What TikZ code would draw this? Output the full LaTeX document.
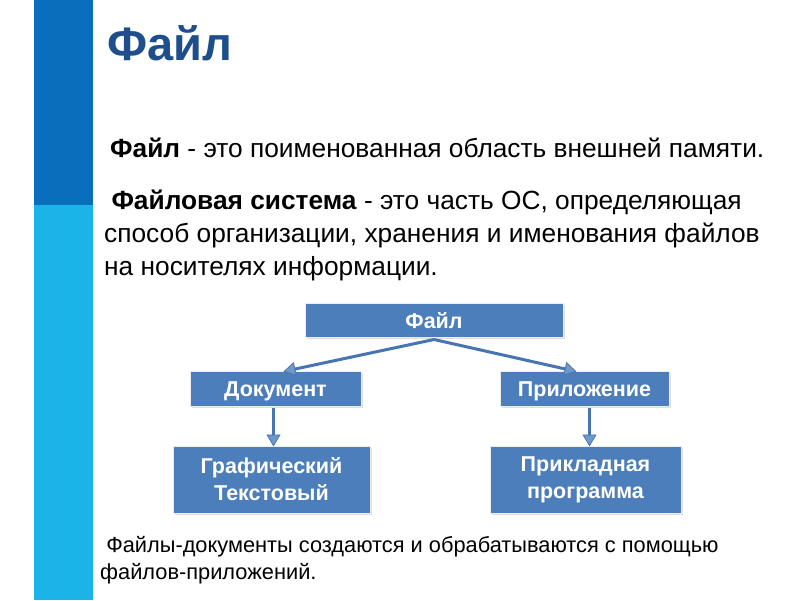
\documentclass[tikz,border=0pt]{standalone}
\usepackage{fontspec}
\setmainfont{Liberation Sans}
\usetikzlibrary{arrows.meta,shadows}
\definecolor{darkbar}{HTML}{0A6EBD}
\definecolor{lightbar}{HTML}{1BB4E8}
\definecolor{titleblue}{HTML}{1F4E8C}
\definecolor{boxblue}{HTML}{4C7EBB}
\definecolor{arrowblue}{HTML}{4775B2}
\newcommand{\onebox}[1]{\raisebox{-8.3pt}[0pt][0pt]{#1}}
\tikzset{
  box/.style={draw=white!85!gray, line width=1pt, fill=boxblue, text=white, font=\bfseries\fontsize{21.5}{27}\selectfont, align=center, inner sep=0pt, drop shadow={opacity=0.25, shadow xshift=1.5pt, shadow yshift=-1.5pt}},
  conn/.style={draw=arrowblue, line width=3pt, -{Triangle[width=14pt, length=12pt, line width=0.8pt, fill=boxblue!80!white]}},
  body/.style={font=\fontsize{26.3}{33}\selectfont, anchor=west, align=left, inner sep=0pt}
}
\begin{document}
\begin{tikzpicture}[x=1pt,y=-1pt]
\useasboundingbox (0,0) rectangle (800,600);
\fill[white] (0,0) rectangle (800,600);
\fill[darkbar] (34,0) rectangle (93,205);
\fill[lightbar] (34,205) rectangle (93,600);
\node[anchor=west, inner sep=0pt, text=titleblue, font=\bfseries\fontsize{47}{50}\selectfont] (title) at (107,43) {Файл};
\node[body] (def1) at (110,148) {\textbf{Файл} - это поименованная область внешней памяти.};
\node[body, anchor=north west] (def2) at (104,190) {\;\textbf{Файловая система} - это часть ОС, определяющая\\способ организации, хранения и именования файлов\\на носителях информации.};
\node[box, minimum width=258pt, minimum height=34pt] (f) at (434,320) {\onebox{Файл}};
\node[box, minimum width=171pt, minimum height=35pt] (d) at (275.5,388.5) {\onebox{Документ}};
\node[box, minimum width=169pt, minimum height=35pt] (p) at (584.5,388.5) {\onebox{Приложение}};
\node[box, minimum width=197pt, minimum height=67pt] (g) at (271.5,479.5) {Графический\\Текстовый};
\node[box, minimum width=191pt, minimum height=67pt] (a) at (585.5,479.5) {Прикладная\\программа};
\draw[conn] ([yshift=-2pt]f.south) -- ([xshift=8pt,yshift=-1pt]d.north);
\draw[conn] ([yshift=-2pt]f.south) -- ([xshift=-8pt,yshift=-1pt]p.north);
\draw[conn] ([xshift=-2pt,yshift=-1pt]d.south) -- ([xshift=2pt,yshift=-1pt]g.north);
\draw[conn] ([xshift=5pt,yshift=-1pt]p.south) -- ([xshift=4pt,yshift=-1pt]a.north);
\node[body, font=\fontsize{21.8}{27}\selectfont, anchor=north west] (note) at (100,536) {\;Файлы-документы создаются и обрабатываются с помощью\\файлов-приложений.};
\end{tikzpicture}
\end{document}
